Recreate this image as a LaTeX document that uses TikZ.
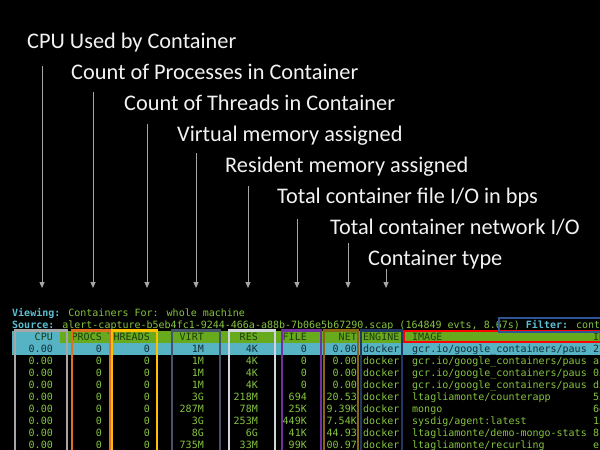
\documentclass[tikz,border=0pt]{standalone}
\usepackage{fontspec}
\setmainfont{Carlito}
\newfontfamily\termfont{DejaVu Sans Mono}
\usetikzlibrary{arrows.meta}
\definecolor{labelwhite}{HTML}{F2F2F2}
\definecolor{arrowgray}{HTML}{A6A6A6}
\definecolor{termgreen}{HTML}{86C440}
\definecolor{termcyan}{HTML}{5BBFD2}
\definecolor{selcyan}{HTML}{56B3C4}
\definecolor{hdrgreen}{HTML}{68AA1E}
\definecolor{hdrtext}{HTML}{1C3A0C}
\definecolor{seltext}{HTML}{12303A}
\definecolor{boxcpu}{HTML}{A6A6A6}
\definecolor{boxprocs}{HTML}{E07020}
\definecolor{boxthreads}{HTML}{FFC000}
\definecolor{boxvirt}{HTML}{44546A}
\definecolor{boxres}{HTML}{D0D5DE}
\definecolor{boxfile}{HTML}{7030A0}
\definecolor{boxnet}{HTML}{8A6516}
\definecolor{boxengine}{HTML}{1F3864}
\definecolor{boximage}{HTML}{FF0000}
\definecolor{boxfilter}{HTML}{2F5597}
\newcommand\termrow[8]{%
 \node[num,text=#8] (cpu-#1) at (53,#1) {0.00};
 \node[num,text=#8] (pr-#1) at (102,#1) {0};
 \node[num,text=#8] (th-#1) at (150,#1) {0};
 \node[num,text=#8] (vi-#1) at (204,#1) {#2};
 \node[num,text=#8] (re-#1) at (258,#1) {#3};
 \node[num,text=#8] (fi-#1) at (307,#1) {#4};
 \node[num,text=#8] (ne-#1) at (357,#1) {#5};
 \node[str,text=#8] (en-#1) at (363,#1) {docker};
 \node[str,text=#8] (im-#1) at (412,#1) {#6};
 \node[str,text=#8] (id-#1) at (593,#1) {#7};
}
\begin{document}
\begin{tikzpicture}[x=1pt,y=-1pt,
  lbl/.style={anchor=base west, inner sep=0pt, text=labelwhite, font=\fontsize{22.3}{26}\selectfont},
  pointer/.style={draw=arrowgray, line width=1pt, -{Triangle[width=5pt,length=6pt]}},
  cell/.style={inner sep=0pt, font=\termfont\fontsize{10}{12}\selectfont, text=termgreen},
  num/.style={cell, anchor=base east},
  str/.style={cell, anchor=base west},
  colbox/.style={line width=2.5pt}]
\fill[black] (0,0) rectangle (600,450);
\useasboundingbox (0,0) rectangle (600,450);
\clip (0,0) rectangle (600,450);

% labels
\node[lbl] (l1) at (27,48) {CPU Used by Container};
\node[lbl] (l2) at (71,79) {Count of Processes in Container};
\node[lbl] (l3) at (124,110) {Count of Threads in Container};
\node[lbl] (l4) at (177,141) {Virtual memory assigned};
\node[lbl] (l5) at (225,172) {Resident memory assigned};
\node[lbl] (l6) at (277,203) {Total container file I/O in bps};
\node[lbl] (l7) at (330,234) {Total container network I/O};
\node[lbl] (l8) at (368,265) {Container type};

% arrows
\coordinate (s1) at (42,66);  \coordinate (e1) at (42,288);
\coordinate (s2) at (93,92);  \coordinate (e2) at (93,288);
\coordinate (s3) at (147,124); \coordinate (e3) at (147,288);
\coordinate (s4) at (196,153); \coordinate (e4) at (196,288);
\coordinate (s5) at (248,186); \coordinate (e5) at (248,288);
\coordinate (s6) at (297,219); \coordinate (e6) at (297,288);
\coordinate (s7) at (348,243); \coordinate (e7) at (348,288);
\coordinate (s8) at (386,269); \coordinate (e8) at (386,288);
\foreach \i in {1,...,8} \draw[pointer] (s\i) -- (e\i);

% terminal header lines
\node[str] (viewing) at (12,316) {\textcolor{termcyan}{\bfseries Viewing:} Containers For: whole machine};
\node[str] (source) at (12,328) {\textcolor{termcyan}{\bfseries Source:} alert-capture-b5eb4fc1-9244-466a-a88b-7b06e5b67290.scap (164849 evts, 8.67s) \textcolor{termcyan}{\bfseries Filter:} conta};

% header and selected row backgrounds
\fill[hdrgreen] (12,331) rectangle (600,343);
\fill[selcyan] (12,331) rectangle (60,343);
\fill[selcyan] (12,343) rectangle (600,355);

% column headers
\node[num,text=hdrtext] (hcpu) at (53,340) {CPU};
\node[num,text=hdrtext] (hpr) at (102,340) {PROCS};
\node[num,text=hdrtext] (hth) at (150,340) {THREADS};
\node[num,text=hdrtext] (hvi) at (204,340) {VIRT};
\node[num,text=hdrtext] (hre) at (258,340) {RES};
\node[num,text=hdrtext] (hfi) at (307,340) {FILE};
\node[num,text=hdrtext] (hne) at (357,340) {NET};
\node[str,text=hdrtext] (hen) at (363,340) {ENGINE};
\node[str,text=hdrtext] (him) at (412,340) {IMAGE};
\node[str,text=hdrtext] (hid) at (593,340) {ID};

% data rows
\termrow{352}{1M}{4K}{0}{0.00}{gcr.io/google\_containers/paus}{22}{seltext}
\termrow{364}{1M}{4K}{0}{0.00}{gcr.io/google\_containers/paus}{ab}{termgreen}
\termrow{376}{1M}{4K}{0}{0.00}{gcr.io/google\_containers/paus}{03}{termgreen}
\termrow{388}{1M}{4K}{0}{0.00}{gcr.io/google\_containers/paus}{d3}{termgreen}
\termrow{400}{3G}{218M}{694}{20.53}{ltagliamonte/counterapp}{55}{termgreen}
\termrow{412}{287M}{78M}{25K}{9.39K}{mongo}{6e}{termgreen}
\termrow{424}{3G}{253M}{449K}{7.54K}{sysdig/agent:latest}{15}{termgreen}
\termrow{436}{8G}{6G}{41K}{44.93}{ltagliamonte/demo-mongo-stats}{8f}{termgreen}
\termrow{448}{735M}{33M}{99K}{00.97}{ltagliamonte/recurling}{e}{termgreen}

% highlight boxes
\draw[colbox,boxcpu] (15,330.5) rectangle (67,460);
\draw[colbox,boxprocs] (72,330.5) rectangle (110,460);
\draw[colbox,boxthreads] (112,330.5) rectangle (157,460);
\draw[colbox,boxvirt] (172,330.5) rectangle (220,460);
\draw[colbox,boxres] (229,330.5) rectangle (275,460);
\draw[colbox,boxfile] (282,330.5) rectangle (321,460);
\draw[colbox,boxnet] (324,330.5) rectangle (358,460);
\draw[colbox,boxengine] (361,330.5) rectangle (402,460);
\draw[colbox,boximage] (404,331) rectangle (610,342);
\draw[colbox,boxfilter] (499,318) rectangle (610,332);
\end{tikzpicture}
\end{document}
